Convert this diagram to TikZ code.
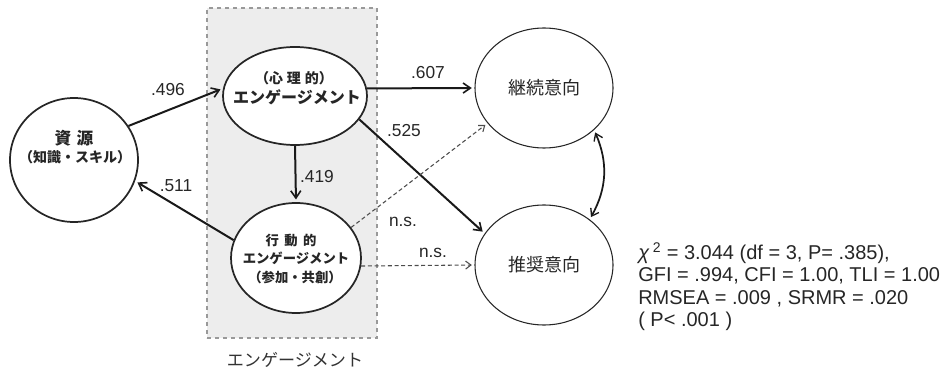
\documentclass[tikz,border=0pt]{standalone}
\usepackage{fontspec}
\setmainfont{Liberation Sans}
\newfontfamily\jp{Noto Sans CJK JP}
\usetikzlibrary{shapes.geometric,arrows.meta,bending}
\begin{document}
\begin{tikzpicture}[x=0.75pt,y=-0.75pt,
  ell/.style={ellipse, draw=black!85, line width=1.3pt, fill=white, inner sep=0pt, align=center, text=black!85},
  ellthin/.style={ell, line width=0.8pt},
  arr/.style={-{Straight Barb[length=5.5pt,width=7.5pt,line width=1.2pt]}, line width=1.5pt, draw=black!90, shorten >=2pt},
  darr/.style={-{Straight Barb[length=4pt,width=6pt]}, line width=0.8pt, draw=black!70, dash pattern=on 3pt off 2pt, shorten >=2pt},
  lbl/.style={font=\fontsize{13}{14}\selectfont, text=black!85, inner sep=0pt},
  jtxt/.style={inner sep=0pt, text=black!85}
]
\useasboundingbox (0,0) rectangle (942,367);
% engagement box
\node[draw=black!40, dashed, fill=black!7, line width=1.2pt, minimum width=127.5pt, minimum height=247.5pt, inner sep=0pt] (box) at (292,173) {};
\node[jtxt, font=\jp\fontsize{12.8}{14}\selectfont, text=black!80] (boxlbl) at (295,360) {エンゲージメント};

% ellipses
\node[ell, minimum width=96pt, minimum height=93pt] (src) at (74,160) {};
\node[jtxt, font=\jp\bfseries\fontsize{12.5}{14}\selectfont] (srct1) at (74,138) {資\hspace{4pt}源};
\node[jtxt, font=\jp\bfseries\fontsize{10.5}{12}\selectfont] (srct2) at (75,157) {（知識・スキル）};

\node[ell, minimum width=108pt, minimum height=73.5pt] (psy) at (295,96) {};
\node[jtxt, font=\jp\bfseries\fontsize{10.5}{12}\selectfont] (psyt1) at (294,78) {（心\hspace{3pt}理\hspace{3pt}的）};
\node[jtxt, font=\jp\bfseries\fontsize{12}{14}\selectfont] (psyt2) at (297,97) {エンゲージメント};

\node[ell, minimum width=97.5pt, minimum height=82.5pt] (beh) at (296,258) {};
\node[jtxt, font=\jp\bfseries\fontsize{10}{12}\selectfont] (beht1) at (291,240) {行\hspace{4pt}動\hspace{4pt}的};
\node[jtxt, font=\jp\bfseries\fontsize{10}{12}\selectfont] (beht2) at (296,258) {エンゲージメント};
\node[jtxt, font=\jp\bfseries\fontsize{10}{12}\selectfont] (beht3) at (295,277) {（参加・共創）};

\node[ellthin, minimum width=103.5pt, minimum height=90pt, font=\jp\fontsize{13.5}{15}\selectfont] (cont) at (544,88) {継続意向};
\node[ellthin, minimum width=103.5pt, minimum height=90pt, font=\jp\fontsize{13.5}{15}\selectfont] (rec) at (544,265) {推奨意向};

% arrows
\draw[arr] (src.32) -- (psy.174);
\draw[arr] (beh.164) -- (src.-19);
\draw[arr] (psy.south) -- (beh.north);
\draw[arr] (psy.6) -- (cont.west);
\draw[arr] (psy.-20) -- (rec.152);
\draw[darr] (beh.29) -- (cont.212);
\draw[darr] (beh.-7) -- (rec.west);
\draw[{Straight Barb[length=5pt,width=7pt,line width=1pt]}-{Straight Barb[length=5pt,width=7pt,line width=1pt]}, line width=1.3pt, draw=black!90, shorten >=2pt, shorten <=2pt] (cont.-40) to[bend left=28] (rec.45);

% labels
\node[lbl] (l496) at (168,90) {.496};
\node[lbl] (l511) at (176,186) {.511};
\node[lbl] (l419) at (317,177) {.419};
\node[lbl] (l607) at (428,73) {.607};
\node[lbl] (l525) at (404,131) {.525};
\node[lbl] (lns1) at (403,222) {n.s.};
\node[lbl] (lns2) at (433,253) {n.s.};

% fit statistics
\node[anchor=north west, align=left, inner sep=0pt, font=\fontsize{15}{16.9}\selectfont, text=black!85] (fit) at (638,242) {\textit{χ}\,\textsuperscript{2} = 3.044 (df = 3, P= .385),\\ GFI = .994, CFI = 1.00, TLI = 1.00\\ RMSEA = .009 , SRMR = .020\\ ( P< .001 )};
\end{tikzpicture}
\end{document}
